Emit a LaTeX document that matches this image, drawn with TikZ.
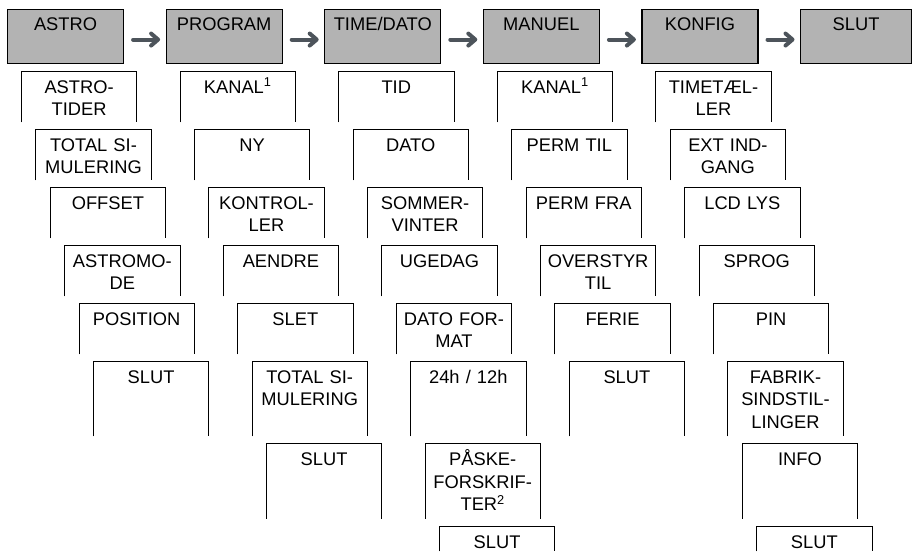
\documentclass[tikz,border=0pt]{standalone}
\usepackage{fontspec}
\setmainfont{Liberation Sans}
\usepackage{tikz}
\usetikzlibrary{arrows.meta}

\definecolor{menugray}{RGB}{179,179,179}
\definecolor{arrowgray}{RGB}{77,84,91}

\tikzset{
  menubox/.style={draw, fill=menugray, line width=1.1pt, anchor=north west, inner sep=0pt,
    text width=116pt, align=center, text height=21pt, text depth=33pt},
  entrybox/.style={anchor=north west, inner sep=0pt, text width=115pt, align=center,
    text height=22pt},
  menuarrow/.style={arrowgray, line width=4pt, line cap=round, shorten <=9pt, shorten >=5.5pt,
    -{Straight Barb[length=7pt, width=12pt, round]}}
}

\newcommand{\menuentry}[3]{%
  \pgfmathsetmacro{\entx}{7+158.6*(#1-1)+14.4*#2}%
  \pgfmathsetmacro{\enty}{#2<7 ? 71+58*(#2-1) : 361+82.5*(#2-6)}%
  \pgfmathsetmacro{\entd}{#2<6 ? 29 : (#2<8 ? 53 : 3)}%
  \node[entrybox, text depth=\entd pt] (menu-#1-#2) at (\entx,\enty) {#3};
  \draw[line width=0.9pt] (menu-#1-#2.south west) |- (menu-#1-#2.north east) -- (menu-#1-#2.south east);
}

\begin{document}
\begin{tikzpicture}[x=1pt, y=-1pt, font=\fontsize{18.3}{22.5}\selectfont]
            \clip (0,0) rectangle (912,551);
            \foreach \name [count=\c] in {ASTRO, PROGRAM, {TIME/DATO}, MANUEL, KONFIG}
              \node[menubox] (menu-\c) at ({7+158.6*(\c-1)},9) {\name};
            \node[menubox, text width=111pt] (menu-6) at (800,9) {SLUT};
            \foreach \c [evaluate=\c as \n using int(\c+1)] in {1,...,5}
              \draw[menuarrow] ([yshift=-3pt]menu-\c.east) -- ([yshift=-3pt]menu-\n.west);

            \foreach \txt [count=\k] in {{ASTRO-\\TIDER}, {TOTAL SI-\\MULERING}, OFFSET,
                {ASTROMO-\\DE}, POSITION, SLUT}
              {\menuentry{1}{\k}{\txt}}
            \foreach \txt [count=\k] in {KANAL\textsuperscript{1}, NY, {KONTROL-\\LER}, AENDRE,
                SLET, {TOTAL SI-\\MULERING}, SLUT}
              {\menuentry{2}{\k}{\txt}}
            \foreach \txt [count=\k] in {TID, DATO, {SOMMER-\\VINTER}, UGEDAG, {DATO FOR-\\MAT},
                {24h / 12h}, {PÅSKE-\\FORSKRIF-\\TER\textsuperscript{2}}, SLUT}
              {\menuentry{3}{\k}{\txt}}
            \foreach \txt [count=\k] in {KANAL\textsuperscript{1}, PERM TIL, PERM FRA,
                {OVERSTYR\\TIL}, FERIE, SLUT}
              {\menuentry{4}{\k}{\txt}}
            \foreach \txt [count=\k] in {{TIMETÆL-\\LER}, {EXT IND-\\GANG}, LCD LYS, SPROG, PIN,
                {FABRIK-\\SINDSTIL-\\LINGER}, INFO, SLUT}
              {\menuentry{5}{\k}{\txt}}
\end{tikzpicture}
\end{document}
